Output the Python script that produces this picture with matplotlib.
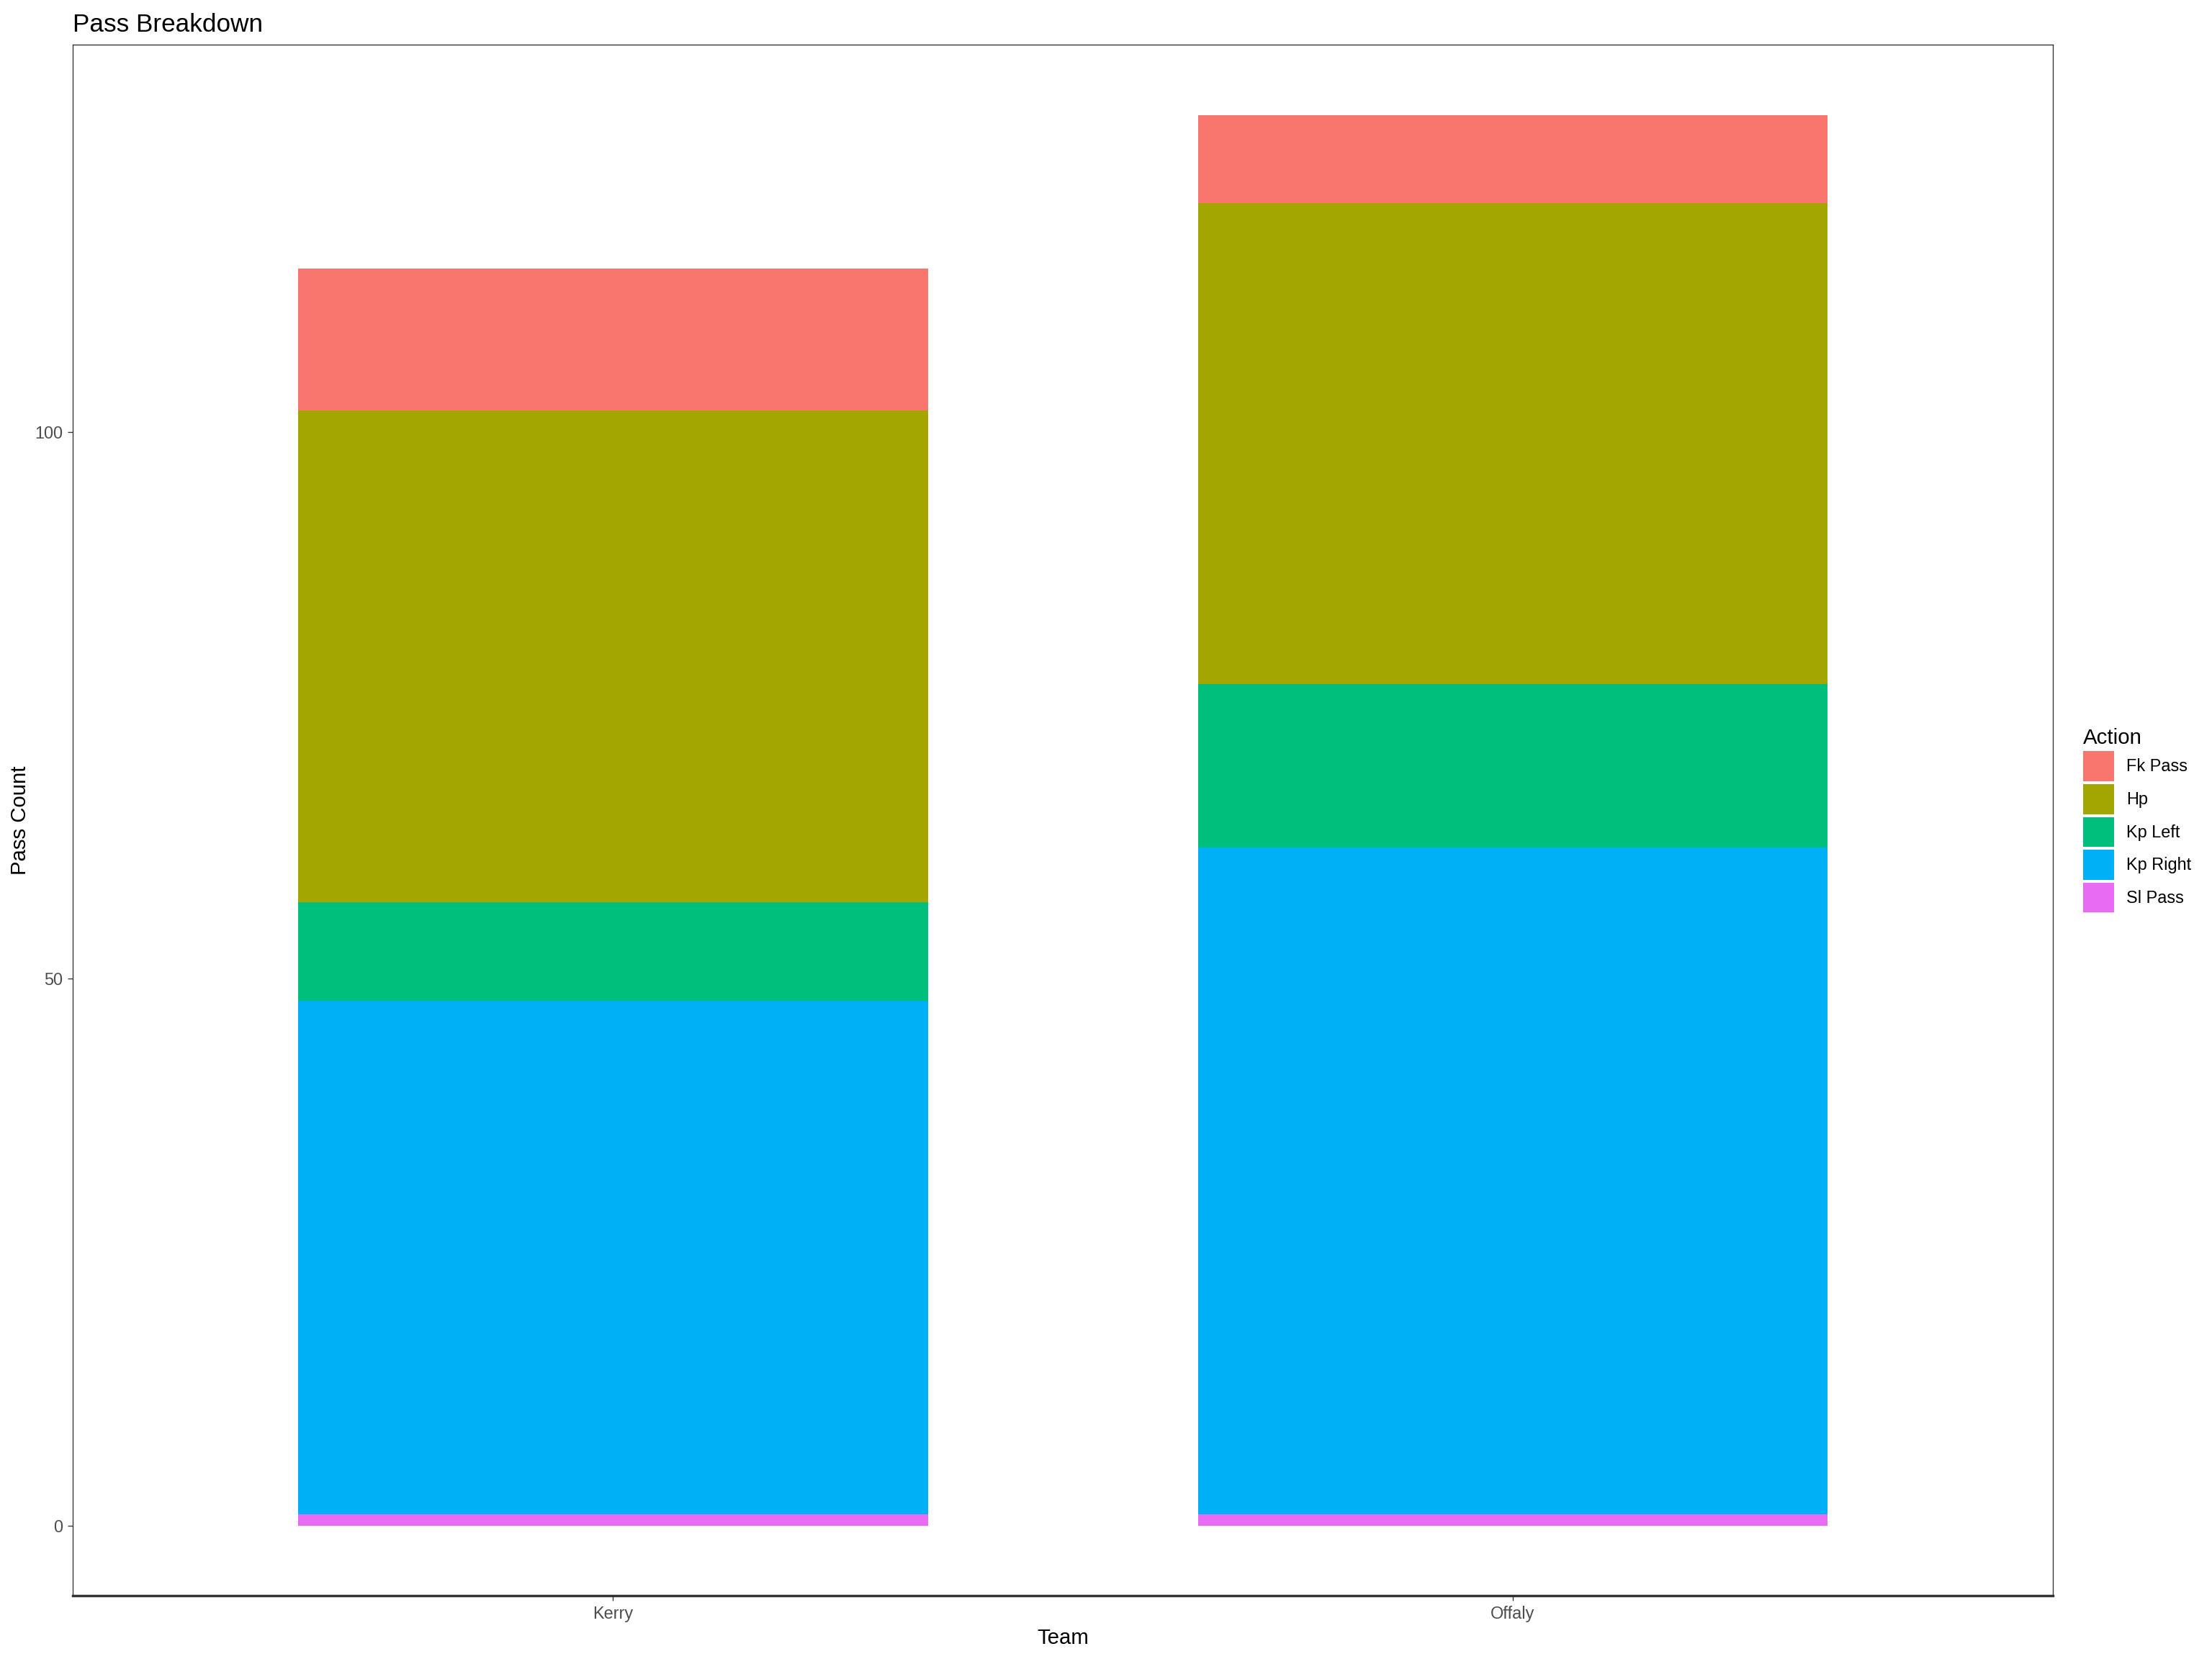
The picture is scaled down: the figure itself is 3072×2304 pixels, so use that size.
import matplotlib.pyplot as plt
from matplotlib.patches import Patch

plt.rcParams['font.family'] = ['Liberation Sans', 'DejaVu Sans']

# dati
teams = ["Kerry", "Offaly"]
actions = ["Sl Pass", "Kp Right", "Kp Left", "Hp", "Fk Pass"]  # dal basso verso l'alto
counts = {
    "Sl Pass": [1, 1],
    "Kp Right": [47, 61],
    "Kp Left": [9, 15],
    "Hp": [45, 44],
    "Fk Pass": [13, 8],
}
colors = {
    "Fk Pass": "#F8766D",
    "Hp": "#A3A500",
    "Kp Left": "#00BF7D",
    "Kp Right": "#00B0F6",
    "Sl Pass": "#E76BF3",
}

fig = plt.figure(figsize=(16, 12), dpi=192)
ax = fig.add_axes([0.033, 0.038, 0.895, 0.935])

x = list(range(1, len(teams) + 1))
bottom = [0] * len(teams)
for a in actions:
    ax.bar(x, counts[a], width=0.7, bottom=bottom, color=colors[a], linewidth=0)
    bottom = [b + v for b, v in zip(bottom, counts[a])]

total_max = max(bottom)
pad = total_max * 0.05
ax.set_ylim(-pad, total_max + pad)
ax.set_xlim(0.4, len(teams) + 0.6)

ax.set_xticks(x)
ax.set_xticklabels(teams)
ax.set_yticks([0, 50, 100])
ax.tick_params(axis='both', labelsize=8.8, labelcolor='#4D4D4D', color='#333333',
               length=2.75, width=0.5, pad=2.5)

for s in ax.spines.values():
    s.set_color('#333333')
    s.set_linewidth(0.5)
ax.spines['bottom'].set_linewidth(1.3)

ax.set_xlabel("Team", fontsize=11, labelpad=3)
ax.set_ylabel("Pass Count", fontsize=11, labelpad=2.5)
ax.set_title("Pass Breakdown", fontsize=13.2, loc='left', pad=7)

handles = [Patch(facecolor=colors[a], edgecolor='none', label=a) for a in reversed(actions)]
leg = ax.legend(handles=handles, title="Action", loc='center left',
                bbox_to_anchor=(1.012, 0.5), frameon=False, fontsize=8.8,
                title_fontsize=11, handlelength=1.83, handleheight=2.35,
                labelspacing=0.17, handletextpad=0.72, borderaxespad=0,
                alignment='left')

fig.savefig("out.png", dpi=192)
